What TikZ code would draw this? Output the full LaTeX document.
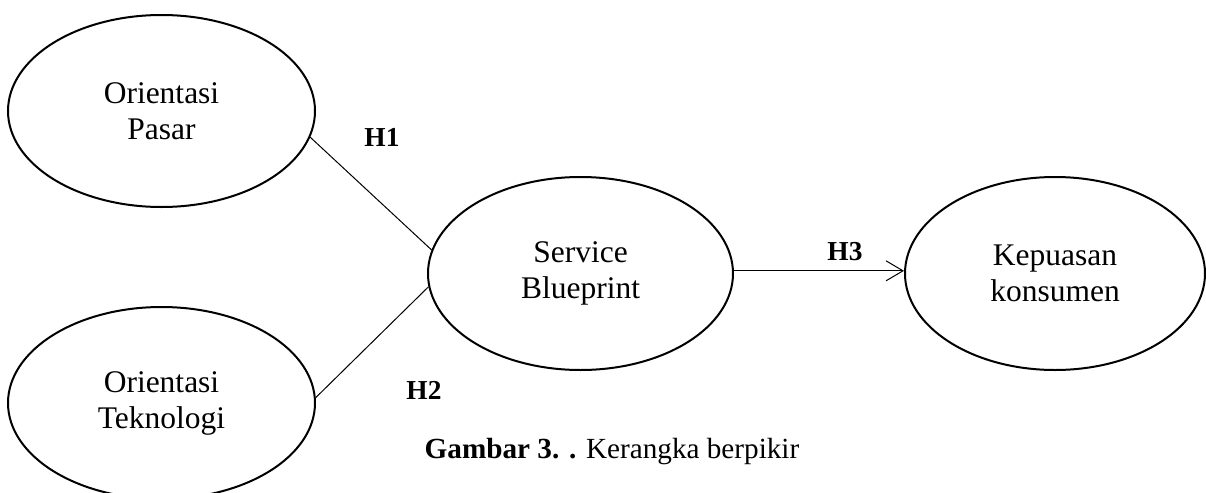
\documentclass[tikz,border=0pt]{standalone}
\usepackage{fontspec}
\setmainfont{Liberation Serif}
\usetikzlibrary{shapes.geometric,arrows.meta}
\tikzset{
  var/.style={draw, ellipse, line width=1pt, inner sep=0pt, align=center,
    font=\fontsize{15.75}{18}\selectfont},
  hlab/.style={font=\fontsize{13.7}{16}\selectfont\bfseries, inner sep=0pt},
  conn/.style={line width=0.5pt},
}
\begin{document}
\begin{tikzpicture}[x=0.5pt,y=-0.5pt]
\useasboundingbox (0,0) rectangle (1206,493);
\node[var, minimum width=153.5pt, minimum height=96pt] (e1) at (161.5,111) {Orientasi\\Pasar};
\node[var, minimum width=153.5pt, minimum height=96pt] (e2) at (161.5,403) {Orientasi\\Teknologi};
\node[var, minimum width=152.5pt, minimum height=96.5pt] (e3) at (580.5,273.5) {Service\\Blueprint};
\node[var, minimum width=150pt, minimum height=96.5pt] (e4) at (1055,273.5) {Kepuasan\\konsumen};
\coordinate (a3) at (e3.1.7);
\draw[conn] (e1.-10) -- (e3.171);
\draw[conn] (e3.185.5) -- (e2.2.2);
\draw[conn, -{Straight Barb[length=8.5pt,width=10pt]}] (a3) -- (a3 -| e4.west);
\node[hlab] (h1) at (382,137) {H1};
\node[hlab] (h2) at (424,390) {H2};
\node[hlab] (h3) at (845,252) {H3};
\node[inner sep=0pt, font=\fontsize{14.6}{17}\selectfont] (cap) at (612,452) {\textbf{Gambar 3. .} Kerangka berpikir};
\end{tikzpicture}
\end{document}
